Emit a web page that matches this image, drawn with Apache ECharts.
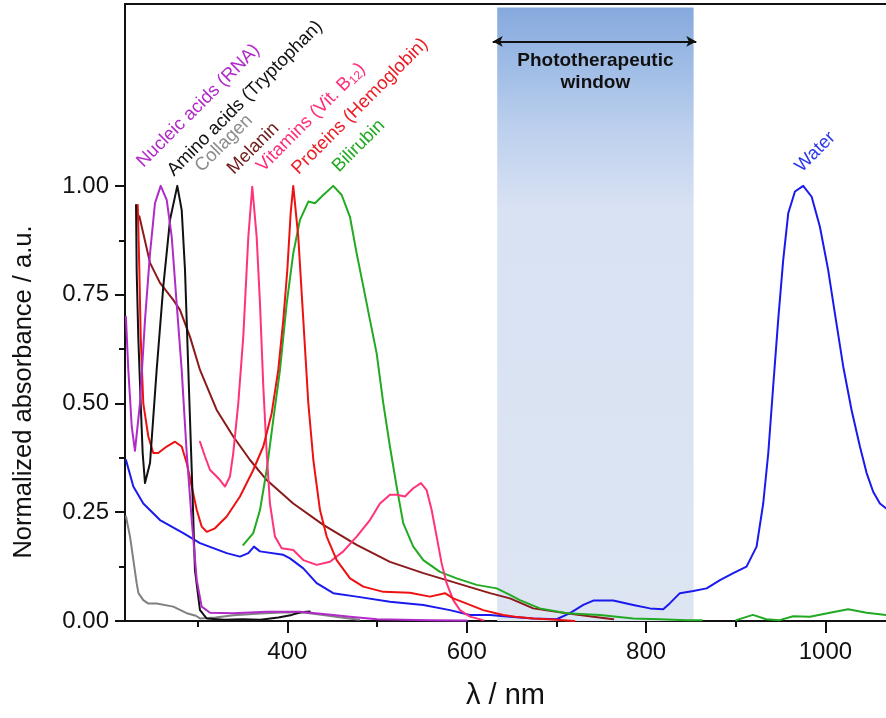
<!DOCTYPE html>
<html>
<head>
<meta charset="utf-8">
<script src="https://cdn.jsdelivr.net/npm/echarts@6/dist/echarts.min.js"></script>
<style>
html,body{margin:0;padding:0;background:#fff;}
#chart{width:886px;height:718px;}
</style>
</head>
<body>
<div id="chart"></div>
<script>
// ---------- axis settings ----------
const X_MIN = 219, X_MAX = 1067.5, Y_MIN = 0, Y_MAX = 1.418;
const xMajorTicks = [400, 600, 800, 1000];
const xMinorTicks = [300, 500, 700, 900];
const yMajorTicks = [0, 0.25, 0.5, 0.75, 1.0];
const yMinorTicks = [0.125, 0.375, 0.625, 0.875];

// ---------- spectra (wavelength nm / normalized absorbance) ----------
const rnaNm = [220, 222.7, 226.5, 230.1, 235.7, 241.3, 246.9, 252.4, 258.8, 265.5, 271.1, 276.6, 282.2, 287.8, 293.4, 299, 304.5, 313.8, 339.7, 377, 414.1, 451.2, 469.8, 500, 560, 600];
const rnaA  = [0.699, 0.577, 0.447, 0.391, 0.5, 0.692, 0.845, 0.96, 1.0, 0.968, 0.883, 0.73, 0.577, 0.386, 0.232, 0.094, 0.033, 0.019, 0.018, 0.021, 0.021, 0.014, 0.01, 0.004, 0.002, 0.001];

const trpNm = [231.3, 232, 233.8, 236.5, 238.7, 241.3, 246.9, 254.3, 261.7, 269.2, 277.3, 282.2, 285.9, 289.6, 293.4, 297, 302.6, 310, 330, 350, 370, 390, 405, 415, 425];
const trpA  = [0.956, 0.807, 0.654, 0.5, 0.386, 0.317, 0.363, 0.577, 0.769, 0.922, 1.0, 0.945, 0.807, 0.577, 0.347, 0.117, 0.025, 0.006, 0.003, 0.004, 0.003, 0.008, 0.014, 0.02, 0.022];

const colNm = [220.1, 224.6, 232, 234, 239.4, 245, 254.3, 272.8, 287.8, 298, 302.6, 320, 340, 370, 400, 420, 440, 460, 480];
const colA  = [0.24, 0.194, 0.087, 0.064, 0.048, 0.04, 0.04, 0.033, 0.018, 0.012, 0.006, 0.008, 0.013, 0.017, 0.02, 0.019, 0.014, 0.008, 0.003];

const melNm = [235, 246.9, 258, 272.8, 280.3, 291.5, 302.6, 321.2, 339.7, 358.4, 377, 406.6, 440.1, 477.3, 514.4, 551.6, 588.8, 625.9, 648.2, 674.2, 711.4, 741.1, 763.4];
const melA  = [0.93, 0.823, 0.777, 0.738, 0.715, 0.653, 0.577, 0.485, 0.424, 0.37, 0.324, 0.27, 0.221, 0.175, 0.136, 0.11, 0.087, 0.064, 0.052, 0.029, 0.018, 0.01, 0.004];

const b12Nm = [302.6, 308.2, 313.8, 319.3, 324.9, 330.5, 336, 339.7, 345.3, 350.9, 356.5, 360.9, 365.8, 369.5, 373.2, 377, 380.6, 386.2, 393.7, 406.6, 417.8, 432.7, 447.5, 462.4, 477.3, 492.1, 503.3, 514.4, 521.9, 531.1, 540.4, 549, 555.3, 560.9, 566.5, 572, 577.6, 585, 592.5, 603.6, 618.4];
const b12A  = [0.412, 0.378, 0.347, 0.336, 0.324, 0.309, 0.332, 0.386, 0.5, 0.654, 0.883, 0.998, 0.883, 0.73, 0.539, 0.386, 0.27, 0.194, 0.167, 0.163, 0.14, 0.129, 0.136, 0.16, 0.194, 0.232, 0.27, 0.29, 0.29, 0.286, 0.305, 0.317, 0.301, 0.255, 0.194, 0.133, 0.087, 0.048, 0.025, 0.01, 0.002];

const hbNm = [233.2, 235, 236.5, 239.4, 245, 250.5, 256.1, 265.5, 274.7, 282.2, 287.8, 293.4, 299, 304.5, 310.1, 319.3, 332.4, 347.2, 362, 373.2, 382.5, 389.9, 395.5, 400, 403.7, 406.6, 412.2, 417.8, 423.4, 429, 436.4, 443.9, 455, 469.9, 484.7, 507, 536.7, 559, 575.7, 585, 600, 618.4, 640.7, 654, 674, 700, 720];
const hbA  = [0.956, 0.807, 0.654, 0.5, 0.424, 0.386, 0.386, 0.401, 0.412, 0.401, 0.363, 0.309, 0.255, 0.217, 0.205, 0.213, 0.24, 0.286, 0.347, 0.401, 0.477, 0.577, 0.692, 0.807, 0.937, 1.0, 0.883, 0.692, 0.5, 0.37, 0.255, 0.194, 0.14, 0.098, 0.079, 0.067, 0.065, 0.056, 0.064, 0.052, 0.04, 0.025, 0.014, 0.01, 0.006, 0.003, 0.0];

const bilNm = [350.9, 362, 369.5, 377, 384.3, 391.8, 399.3, 406.6, 414.1, 423.4, 430.8, 440.1, 451.2, 460.6, 469.8, 477.3, 484.7, 492.1, 499.6, 507, 514.4, 521.9, 529.2, 540.4, 551.6, 570.2, 588.8, 611.1, 633.4, 648.2, 659.3, 681.6, 711.4, 748.6, 785.7, 815.5, 845.2, 862, 880, 900.6, 919.1, 934, 948.9, 964, 982.6, 1005, 1025.3, 1045.9, 1067.5];
const bilA  = [0.175, 0.202, 0.255, 0.347, 0.462, 0.577, 0.73, 0.845, 0.922, 0.964, 0.96, 0.979, 1.0, 0.979, 0.929, 0.845, 0.769, 0.692, 0.615, 0.5, 0.401, 0.309, 0.225, 0.171, 0.14, 0.113, 0.098, 0.083, 0.075, 0.06, 0.048, 0.029, 0.018, 0.014, 0.006, 0.004, 0.002, 0.002, null, 0.002, 0.014, 0.004, 0.002, 0.011, 0.01, 0.019, 0.027, 0.019, 0.014];

const watNm = [220.1, 228.3, 239.4, 258, 284, 302.6, 332.4, 347.2, 356.5, 362.8, 369.5, 395.5, 403, 417.8, 432.7, 451.2, 477.3, 514.4, 551.6, 581.3, 603.6, 625.9, 648.2, 674.2, 700.3, 715.1, 730, 741.1, 763.4, 785.7, 804.3, 819.1, 826.6, 837.7, 852.6, 867.5, 882.4, 897.2, 912, 923.2, 930.6, 936.2, 941.7, 947.3, 952.9, 958.5, 966, 975.2, 984.6, 993.8, 1003, 1010.5, 1019.8, 1029.1, 1038.4, 1045.9, 1053.2, 1060.7, 1067.4];
const watA  = [0.37, 0.309, 0.27, 0.232, 0.202, 0.179, 0.156, 0.148, 0.156, 0.171, 0.16, 0.152, 0.144, 0.121, 0.087, 0.064, 0.056, 0.044, 0.037, 0.025, 0.014, 0.014, 0.01, 0.006, 0.004, 0.018, 0.037, 0.047, 0.047, 0.037, 0.029, 0.027, 0.041, 0.064, 0.069, 0.075, 0.094, 0.11, 0.125, 0.171, 0.27, 0.385, 0.539, 0.692, 0.83, 0.937, 0.987, 1.0, 0.975, 0.906, 0.807, 0.707, 0.585, 0.485, 0.401, 0.34, 0.297, 0.27, 0.259];

// ---------- phototherapeutic window ----------
const windowNm = [634, 853];
const windowTopA = 1.41;
const arrowNm = [629, 856];
const arrowA = 1.332;
const windowText = 'Phototherapeutic\nwindow';

// ---------- annotations ----------
const labelTexts  = ['Nucleic acids (RNA)', 'Amino acids (Tryptophan)', 'Collagen', 'Melanin', 'Vitamins (Vit. B{s|12})', 'Proteins (Hemoglobin)', 'Bilirubin', 'Water'];
const labelNm     = [243, 277, 308, 344, 377, 416, 461, 977];
const labelA      = [1.034, 1.014, 1.023, 1.018, 1.023, 1.018, 1.023, 1.023];
const labelColors = ['#b02bc8', '#111111', '#8c8c8c', '#6e1c1c', '#ff2d7a', '#ee1c24', '#22aa22', '#2b3ae8'];

const FONT = '"Liberation Sans", Arial, Helvetica, sans-serif';

function pairs(xs, ys) {
  return xs.map((x, i) => [x, ys[i] === null ? '-' : ys[i]]);
}

const seriesDefs = [
  {name: 'Collagen', nm: colNm, a: colA, color: '#808080'},
  {name: 'Melanin', nm: melNm, a: melA, color: '#8b1a1a'},
  {name: 'Water', nm: watNm, a: watA, color: '#1a1aee'},
  {name: 'Bilirubin', nm: bilNm, a: bilA, color: '#22aa22'},
  {name: 'Vitamin B12', nm: b12Nm, a: b12A, color: '#ff3377'},
  {name: 'Hemoglobin', nm: hbNm, a: hbA, color: '#ee1111'},
  {name: 'Tryptophan', nm: trpNm, a: trpA, color: '#111111'},
  {name: 'RNA', nm: rnaNm, a: rnaA, color: '#b02bc8'}
];

const chart = echarts.init(document.getElementById('chart'), null, {renderer: 'canvas'});

const axisLineStyle = {color: '#111', width: 2};

const series = [{
  type: 'line',
  name: 'window',
  data: [],
  z: 1,
  silent: true,
  markArea: {
    silent: true,
    itemStyle: {
      color: new echarts.graphic.LinearGradient(0, 0, 0, 1, [
        {offset: 0, color: '#86a9dd'},
        {offset: 0.1, color: '#a0bde6'},
        {offset: 0.2, color: '#bdd0ee'},
        {offset: 0.33, color: '#d9e2f3'},
        {offset: 1, color: '#dde5f3'}
      ])
    },
    label: {
      show: true,
      position: ['50%', 42],
      align: 'center',
      verticalAlign: 'top',
      formatter: windowText,
      fontFamily: FONT,
      fontWeight: 'bold',
      fontSize: 19,
      lineHeight: 22,
      color: '#111'
    },
    data: [[{coord: [windowNm[0], Y_MIN]}, {coord: [windowNm[1], windowTopA]}]]
  },
  markLine: {
    silent: true,
    symbol: ['arrow', 'arrow'],
    symbolSize: [8, 10],
    label: {show: false},
    lineStyle: {color: '#111', width: 2, type: 'solid'},
    data: [[{coord: [arrowNm[0], arrowA]}, {coord: [arrowNm[1], arrowA]}]]
  }
}];

seriesDefs.forEach(s => {
  series.push({
    type: 'line',
    name: s.name,
    data: pairs(s.nm, s.a),
    showSymbol: false,
    symbol: 'none',
    connectNulls: false,
    z: 3,
    lineStyle: {color: s.color, width: 2, join: 'round', cap: 'round'},
    itemStyle: {color: s.color}
  });
});

const option = {
  animation: false,
  backgroundColor: '#fff',
  textStyle: {fontFamily: FONT},
  grid: {left: 125, right: 0, top: 4, bottom: 97, containLabel: false, outerBoundsMode: 'none'},
  xAxis: [
    {
      type: 'value', min: X_MIN, max: X_MAX, position: 'bottom',
      axisLine: {show: true, onZero: false, lineStyle: axisLineStyle},
      axisTick: {show: true, customValues: xMajorTicks, length: 12, inside: false, lineStyle: axisLineStyle},
      axisLabel: {show: true, customValues: xMajorTicks, fontSize: 24, color: '#111', margin: 19, fontFamily: FONT,
        formatter: v => String(v)},
      splitLine: {show: false},
      name: 'λ / nm', nameLocation: 'middle', nameGap: 60,
      nameTextStyle: {fontSize: 29, color: '#111', fontFamily: FONT}
    },
    {
      type: 'value', min: X_MIN, max: X_MAX, position: 'bottom',
      axisLine: {show: false},
      axisTick: {show: true, customValues: xMinorTicks, length: 6, inside: false, lineStyle: axisLineStyle},
      axisLabel: {show: false},
      splitLine: {show: false}
    },
    {
      type: 'value', min: X_MIN, max: X_MAX, position: 'top',
      axisLine: {show: true, onZero: false, lineStyle: axisLineStyle},
      axisTick: {show: false}, axisLabel: {show: false}, splitLine: {show: false}
    }
  ],
  yAxis: [
    {
      type: 'value', min: Y_MIN, max: Y_MAX, position: 'left',
      axisLine: {show: true, onZero: false, lineStyle: axisLineStyle},
      axisTick: {show: true, customValues: yMajorTicks, length: 10, inside: false, lineStyle: axisLineStyle},
      axisLabel: {show: true, customValues: yMajorTicks, fontSize: 24, color: '#111', margin: 16, fontFamily: FONT,
        formatter: v => Number(v).toFixed(2)},
      splitLine: {show: false}
    },
    {
      type: 'value', min: Y_MIN, max: Y_MAX, position: 'left',
      axisLine: {show: false},
      axisTick: {show: true, customValues: yMinorTicks, length: 6, inside: false, lineStyle: axisLineStyle},
      axisLabel: {show: false},
      splitLine: {show: false}
    }
  ],
  series: series
};

chart.setOption(option);

// annotations placed through the axes' own scales
const graphics = [{
  type: 'text',
  x: 24, y: 392,
  rotation: Math.PI / 2,
  style: {
    text: 'Normalized absorbance / a.u.',
    fill: '#111',
    font: '25.5px ' + FONT,
    align: 'center',
    verticalAlign: 'middle'
  }
}];
labelTexts.forEach((t, i) => {
  const p = chart.convertToPixel({xAxisIndex: 0, yAxisIndex: 0}, [labelNm[i], labelA[i]]);
  graphics.push({
    type: 'text',
    x: p[0], y: p[1],
    rotation: Math.PI / 4,
    z: 10,
    style: {
      text: t,
      fill: labelColors[i],
      fontSize: 18.5,
      fontFamily: FONT,
      align: 'left',
      verticalAlign: 'bottom',
      rich: {s: {fontSize: 12, fill: labelColors[i], fontFamily: FONT, verticalAlign: 'bottom', padding: [8, 0, 0, 0]}}
    }
  });
});
chart.setOption({graphic: graphics});
</script>
</body>
</html>
